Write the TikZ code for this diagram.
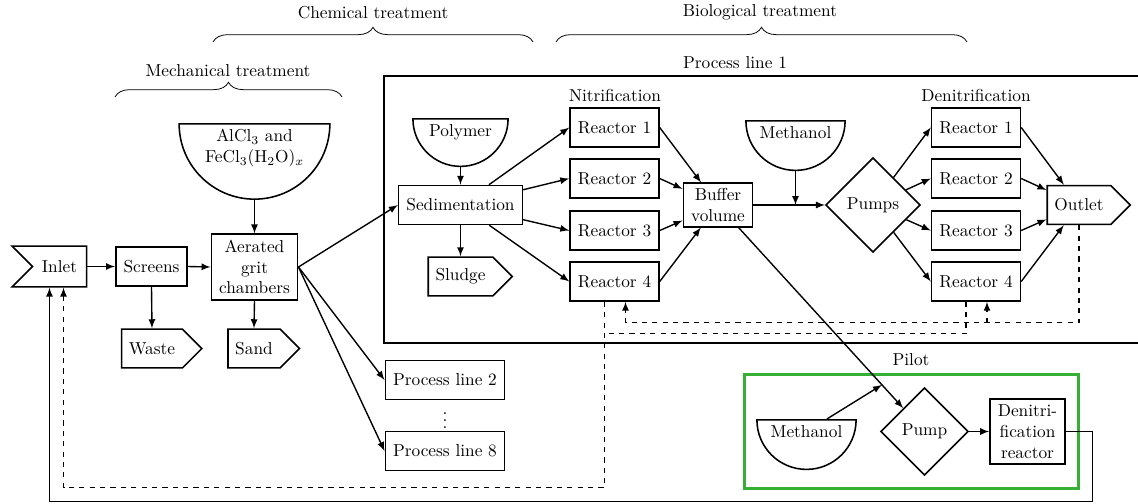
\documentclass[tikz,border=0pt]{standalone}
\usepackage{tikz}
\usetikzlibrary{shapes,arrows,calc,positioning,decorations.pathreplacing}
\tikzstyle{box}=[rectangle, draw=black, line width=0.9pt, minimum height=22.5pt, inner xsep=4.5pt, align=center]
\tikzstyle{tank}=[semicircle, shape border rotate=180, draw=black, line width=0.9pt, inner xsep=4.5pt, align=center]
\tikzstyle{sink}=[signal, signal to=east, draw=black, line width=0.9pt, minimum height=22.5pt, inner xsep=4.2pt]
\tikzstyle{source}=[signal, signal from=west, signal to=nowhere, draw=black, line width=0.9pt, minimum height=23.5pt, inner xsep=5.5pt]
\tikzstyle{pumpnode}=[diamond, draw=black, line width=0.9pt, inner xsep=4.5pt]
\tikzstyle{l1}=[line width=0.8pt]
\tikzstyle{brc}=[decorate, decoration={brace, amplitude=8.5pt}, line width=0.45pt]
\usepackage{xcolor}
\definecolor{mgreen}{HTML}{35B035}

\begin{document}
\begin{tikzpicture}[x=0.578pt, y=-0.578pt, >=latex]
    \useasboundingbox (0,0) rectangle (1138,503);
    \clip (0,0) rectangle (1138,503);
    % treatment stages
    \draw[brc] (115,97) -- (342,97);
    \node at (228,71) (mecht) {Mechanical treatment};
    \draw[brc] (213,42) -- (533,42);
    \node at (373,13) (chemt) {Chemical treatment};
    \draw[brc] (556,42) -- (967,42);
    \node at (760,12) (biot) {Biological treatment};

    % frames
    \draw[line width=0.9pt] (384,76) rectangle (1170,343);
    \node at (735,63) (pl1) {Process line 1};
    \draw[mgreen, line width=1.7pt] (744.5,374.5) rectangle (1078.5,488.5);
    \node at (911,360) (pilott) {Pilot};

    % mechanical and chemical treatment
    \node[source] at (59.5,266.5) (inlet) {Inlet};
    \node[box] at (151.5,266.5) (scr) {Screens};
    \node[box] at (254.5,267) (grit) {Aerated\\grit\\chambers};
    \node[sink] at (152,348.5) (waste) {Waste};
    \node[sink] at (254,348.5) (sand) {Sand};
    \node[tank, anchor=chord center] at (254.5,123) (chem) {AlCl$_3$ and\\FeCl$_3$(H$_2$O)$_x$};

    % process line 1
    \node[tank, anchor=chord center] at (460.5,118) (poly) {Polymer};
    \node[box] at (460.5,205) (sed) {Sedimentation};
    \node[sink] at (460.5,276.5) (sludge) {Sludge};
    \node at (615,95) {Nitrification};
    \node at (976,95) {Denitrification};
    \foreach \i/\y in {1/127.5, 2/178.5, 3/230.5, 4/281.5} {
        \node[box] at (614.5,\y) (n\i) {Reactor \i};
        \node[box] at (976,\y) (d\i) {Reactor \i};
    }
    \node[box, inner ysep=3pt] at (718,205) (buf) {Buffer\\volume};
    \node[tank, anchor=chord center] at (795.5,120) (meth) {Methanol};
    \node[pumpnode] at (873,205) (pumps) {Pumps};
    \node[sink] at (1079,205) (outlet) {Outlet};

    % other process lines
    \node[box] at (445,380) (pl2) {Process line 2};
    \node at (445,415) (dots) {$\vdots$};
    \node[box] at (445,451) (pl8) {Process line 8};

    % pilot
    \node[tank, anchor=chord center] at (806.5,419) (methp) {Methanol};
    \node[pumpnode] at (924.5,431.5) (pump) {Pump};
    \node[box] at (1027.5,431.5) (pilot) {Denitri-\\fication\\reactor};

    \draw[l1,->] (inlet.east) -- (scr.west);
    \draw[l1,->] (scr.east) -- (grit.west);
    \draw[l1,->] (scr.south) -- (waste.north);
    \draw[l1,->] (grit.south) -- (sand.north);
    \draw[l1,->] (chem.apex) -- (grit.north);
    \draw[l1,->] (grit.east) -- (sed.west);
    \draw[l1,->] (grit.east) -- (pl2.west);
    \draw[l1,->] (grit.east) -- (pl8.west);
    \draw[l1,->] (poly.apex) -- (sed.north);
    \draw[l1,->] (sed.south) -- (sludge.north);
    \foreach \i in {1,...,4} {
        \draw[l1,->] (sed) -- (n\i.west);
        \draw[l1,->] (n\i.east) -- (buf);
        \draw[l1,->] (pumps) -- (d\i.west);
        \draw[l1,->] (d\i.east) -- (outlet);
    }
    \draw[l1,->] (buf) -- (pumps);
    \draw[l1,->] (meth.apex) -- (meth.apex |- buf);
    \draw[l1,->] (buf) -- (pump);
    \coordinate (mix) at ($(buf)!0.794!(pump)$);
    \draw[l1,->] (methp) -- (mix);
    \draw[l1,->] (pump) -- (pilot);
    \coordinate (back) at ($(pilot.east)+(27,70)$);
    \draw[l1,->] (pilot.east) -| (back) -| ($(inlet.south)+(-10,0)$);

    % recirculation
    \draw[l1,dashed,->] (outlet.south) |- ($(n4.south)+(11,21)$) -- ($(n4.south)+(11,0)$);
    \draw[l1,dashed,->] ($(d4.south)+(11,21)$) -- ($(d4.south)+(11,0)$);
    \draw[l1,dashed] ($(d4.south)+(-10,0)$) |- ($(n4.south)+(-10,32)$);
    \draw[l1,dashed,->] ($(n4.south)+(-10,0)$) |- ($(inlet.south)+(4,200)$) -- ($(inlet.south)+(4,0)$);
\end{tikzpicture}
\end{document}
